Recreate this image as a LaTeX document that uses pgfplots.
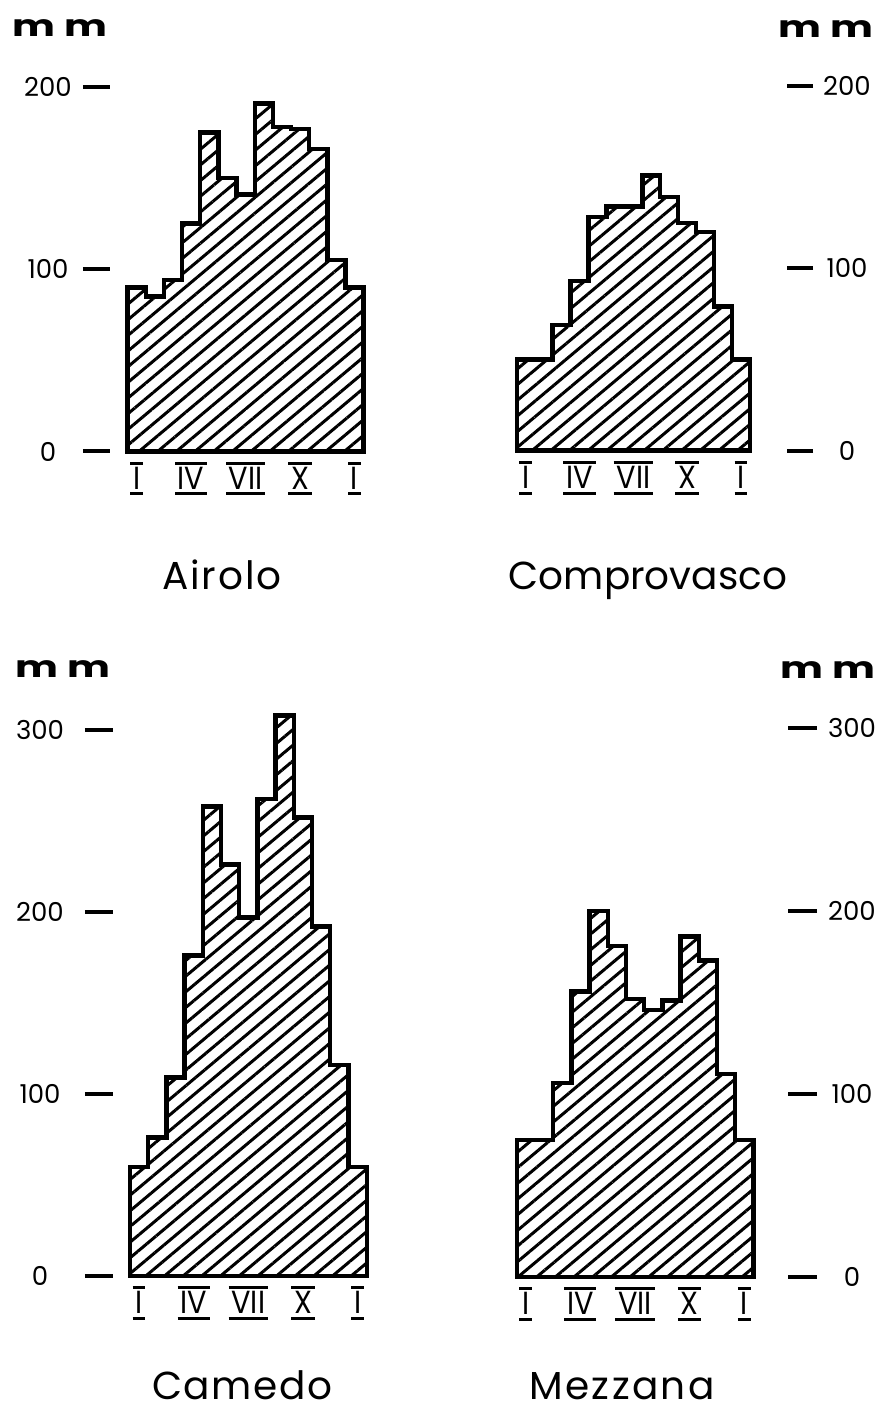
\documentclass[border=0pt]{standalone}
\usepackage{fontspec}
\setmainfont{Poppins}
\usepackage{graphicx}
\usepackage{pgfplots}
\pgfplotsset{compat=1.18}
\usetikzlibrary{patterns.meta}

% roman month numeral with bars above and below
\newcommand\rn[1]{\vbox{\hrule height 1.5pt\kern1.3pt\hbox{\kern1.4pt\scalebox{0.9}[1]{#1}\kern1.4pt}\kern1.5pt\hrule height 1.5pt}}
\newcommand\mm{\scalebox{1.35}[1]{\bfseries\fontsize{15}{17}\selectfont m m}}

\pgfplotsset{
  klima/.style={
    scale only axis, clip=false,
    axis line style={draw=none},
    ymin=0,
    /pgf/number format/assume math mode=true,
    xtick={1,4,7,10,13},
    xticklabels={\rn{I},\rn{IV},\rn{VII},\rn{X},\rn{I}},
    xtick style={draw=none},
    xticklabel style={font=\fontsize{16}{18}\selectfont, anchor=north, yshift=-1.5pt},
    extra x ticks={1.5,2.5,3.5,4.5,5.5,6.5,7.5,8.5,9.5,10.5,11.5,12.5},
    extra x tick labels={},
    extra x tick style={tick align=outside, major tick length=2.5pt,
      tick style={draw=black, line width=1.2pt}},
    tick align=inside,
    ytick style={line width=2pt, black},
    yticklabel style={font=\fontsize{13}{15}\selectfont, anchor=center},
  },
  hatch/.style={
    const plot, mark=none, draw=black, line width=2.2pt, line join=miter,
    pattern={Lines[angle=40,distance=6pt,line width=1.5pt]}, pattern color=black,
  },
}

\begin{document}
\begin{tikzpicture}
\path[use as bounding box] (0,0) rectangle (444.5pt,707pt);

% Airolo
\begin{axis}[klima, at={(41.5pt,481.25pt)}, anchor=south west,
  width=140.3pt, height=182.25pt, xmin=-1.96, xmax=13.5, ymax=200,
  ytick={0,100,200}, ytick pos=left, yticklabel pos=left,
  major tick length=13.5pt, yticklabel style={xshift=-17.5pt}]
\addplot[hatch] table {
0.5 90
1.5 85
2.5 94
3.5 125
4.5 175
5.5 150
6.5 141
7.5 191
8.5 178
9.5 177
10.5 166
11.5 105
12.5 90
13.5 90
} \closedcycle;
\end{axis}

% Comprovasco
\begin{axis}[klima, at={(258.35pt,481.65pt)}, anchor=south west,
  width=148.15pt, height=182.35pt, xmin=0.5, xmax=17.01, ymax=200,
  ytick={0,100,200}, ytick pos=right, yticklabel pos=right,
  major tick length=13.2pt, yticklabel style={xshift=17pt}]
\addplot[hatch] table {
0.5 50
1.5 50
2.5 69
3.5 93
4.5 128
5.5 134
6.5 134
7.5 151
8.5 139
9.5 125
10.5 120
11.5 79
12.5 50
13.5 50
} \closedcycle;
\end{axis}

% Camedo
\begin{axis}[klima, at={(42.5pt,69pt)}, anchor=south west,
  width=140.85pt, height=273pt, xmin=-1.97, xmax=13.5, ymax=300,
  ytick={0,100,200,300}, ytick pos=left, yticklabel pos=left,
  major tick length=14pt, yticklabel style={xshift=-22.5pt}]
\addplot[hatch] table {
0.5 60
1.5 76
2.5 109
3.5 176
4.5 258
5.5 226
6.5 197
7.5 262
8.5 308
9.5 252
10.5 192
11.5 116
12.5 60
13.5 60
} \closedcycle;
\end{axis}

% Mezzana
\begin{axis}[klima, at={(258.35pt,68.5pt)}, anchor=south west,
  width=150.15pt, height=274.5pt, xmin=0.5, xmax=17.0, ymax=300,
  ytick={0,100,200,300}, ytick pos=right, yticklabel pos=right,
  major tick length=14.5pt, yticklabel style={xshift=17.5pt}]
\addplot[hatch] table {
0.5 75
1.5 75
2.5 106
3.5 156
4.5 200
5.5 181
6.5 152
7.5 146
8.5 151
9.5 186
10.5 173
11.5 111
12.5 75
13.5 75
} \closedcycle;
\end{axis}

\node at (30pt,692.75pt) {\mm};
\node at (413pt,692.5pt) {\mm};
\node at (31.5pt,372.5pt) {\mm};
\node at (414pt,372pt) {\mm};

\begin{scope}[every node/.style={anchor=base, font=\fontsize{19.5}{23}\selectfont}]
\node at (111pt,412pt) {\addfontfeature{LetterSpace=5}Airolo};
\node at (324pt,412pt) {Comprovasco};
\node at (121pt,7pt) {\addfontfeature{LetterSpace=4}Camedo};
\node at (311pt,7pt) {\addfontfeature{LetterSpace=6}Mezzana};
\end{scope}
\end{tikzpicture}
\end{document}
